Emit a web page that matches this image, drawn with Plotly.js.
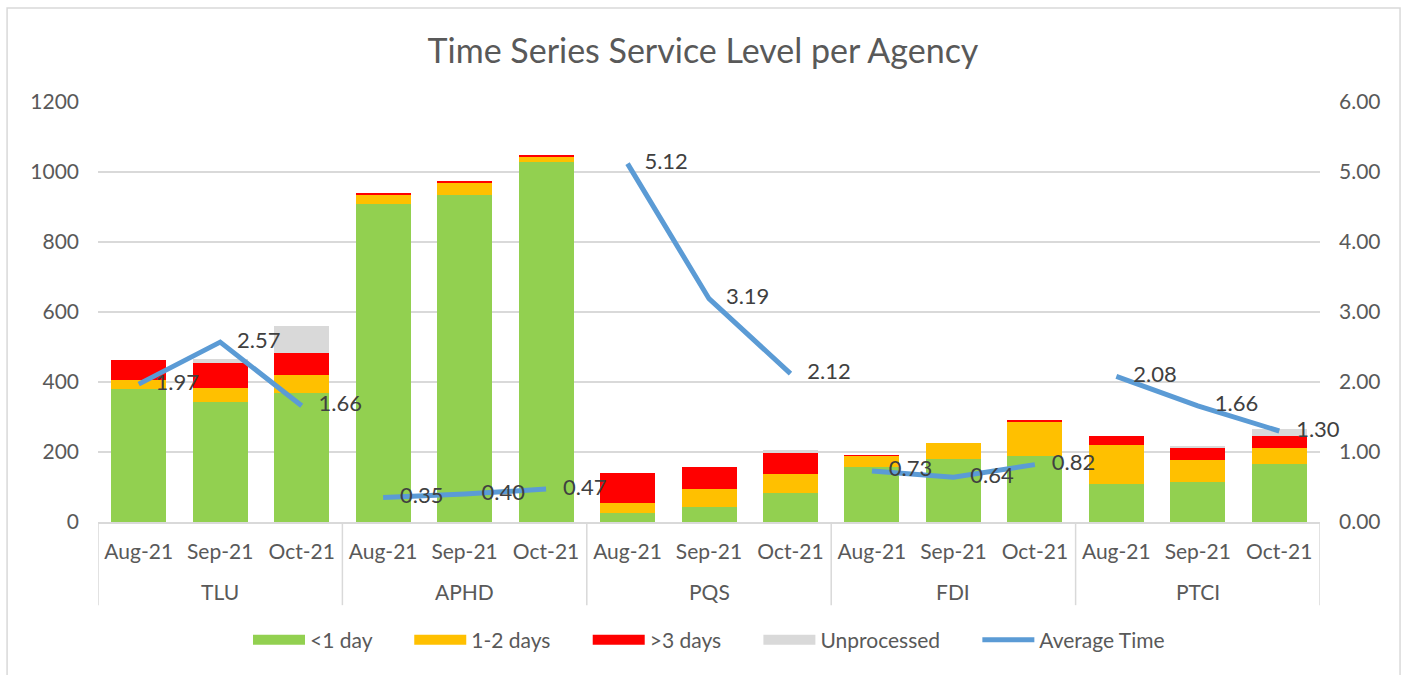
<!DOCTYPE html>
<html>
<head>
<meta charset="utf-8">
<script src="https://cdn.plot.ly/plotly-3.0.1.min.js"></script>
<style>
html,body{margin:0;padding:0;background:#fff;}
#chart{width:1406px;height:675px;}
</style>
</head>
<body>
<div id="chart"></div>
<script>
const agencies = ["TLU", "APHD", "PQS", "FDI", "PTCI"];
const months = ["Aug-21", "Sep-21", "Oct-21"];

const lessThan1Day = [379, 344, 370, 910, 934, 1030, 25, 42, 82, 156, 179, 190, 109, 115, 167];
const oneToTwoDays = [27, 40, 50, 27, 36, 14, 30, 53, 56, 34, 48, 98, 111, 62, 45];
const moreThan3Days = [57, 71, 64, 3, 3, 3, 84, 61, 58, 1, 0, 4, 27, 36, 35];
const unprocessed = [0, 10, 77, 0, 0, 0, 0, 0, 10, 0, 0, 0, 0, 2, 19];
const averageTime = [1.97, 2.57, 1.66, 0.35, 0.40, 0.47, 5.12, 3.19, 2.12, 0.73, 0.64, 0.82, 2.08, 1.66, 1.30];

// category keys: one per agency/month
const keys = [];
const monthLabels = [];
agencies.forEach(a => months.forEach(m => { keys.push(a + "|" + m); monthLabels.push(m); }));

const font = "Lato, 'Open Sans', sans-serif";
const grey = "#595959";
const lineGrey = "#D9D9D9";
const legendGap = "\u00a0".repeat(6);
const barSpec = [
  ["<1 day", lessThan1Day, "#92D050"],
  ["1-2 days", oneToTwoDays, "#FFC000"],
  [">3 days", moreThan3Days, "#FF0000"],
  ["Unprocessed", unprocessed, "#D9D9D9"]
];

const traces = barSpec.map(([name, vals, color]) => ({
  type: "bar",
  name: name,
  x: keys,
  y: vals,
  marker: {color: color, line: {width: 0}},
  showlegend: false,
  hoverinfo: "y+name"
}));

// legend swatches (wide rectangles like the original)
barSpec.forEach(([name, vals, color]) => {
  traces.push({
    type: "scatter", mode: "lines", name: name + legendGap,
    x: [null], y: [null],
    line: {color: color, width: 13},
    showlegend: true, hoverinfo: "skip"
  });
});

const nb = "\u00a0\u00a0\u00a0";
agencies.forEach((a, i) => {
  const ys = averageTime.slice(i*3, i*3+3);
  traces.push({
    type: "scatter",
    mode: "lines+text",
    name: "Average Time",
    legendgroup: "avg",
    showlegend: i === 0,
    x: keys.slice(i*3, i*3+3),
    y: ys,
    yaxis: "y2",
    line: {color: "#5B9BD5", width: 5},
    text: ys.map(v => nb + v.toFixed(2)),
    textposition: "middle right",
    textfont: {family: font, size: 22, color: "#404040"},
    cliponaxis: false
  });
});

// agency group labels and dividers, placed from the category indices
const annotations = agencies.map((a, i) => ({
  xref: "x", yref: "paper",
  x: keys[i*3 + 1], y: -0.165,
  text: a, showarrow: false,
  font: {family: font, size: 21, color: grey},
  xanchor: "center", yanchor: "middle"
}));
const shapes = [];
for (let i = 0; i <= agencies.length; i++) {
  const pos = i * months.length - 0.5;
  shapes.push({
    type: "line", xref: "x", yref: "paper",
    x0: pos, x1: pos, y0: 0, y1: -0.198,
    line: {color: lineGrey, width: 1.5}
  });
}
shapes.push({
  type: "rect", xref: "paper", yref: "paper",
  x0: -0.0744, x1: 1.0655, y0: -0.40, y1: 1.2238,
  line: {color: lineGrey, width: 1.5},
  fillcolor: "rgba(0,0,0,0)", layer: "below"
});

const layout = {
  width: 1406,
  height: 675,
  paper_bgcolor: "#ffffff",
  plot_bgcolor: "#ffffff",
  margin: {l: 98, r: 86, t: 102, b: 153},
  barmode: "stack",
  bargap: 0.325,
  font: {family: font, color: grey, size: 21},
  title: {
    text: "Time Series Service Level per Agency",
    font: {family: font, size: 34, color: grey},
    x: 0.5, xanchor: "center",
    y: 0.925, yanchor: "middle"
  },
  xaxis: {
    type: "category",
    range: [-0.5, keys.length - 0.5],
    tickvals: keys,
    ticktext: monthLabels,
    showgrid: false,
    showline: true,
    linecolor: lineGrey,
    linewidth: 1.5,
    ticks: "",
    tickfont: {family: font, size: 21, color: grey},
    ticklabelstandoff: 10
  },
  yaxis: {
    range: [0, 1200],
    dtick: 200,
    showgrid: true,
    gridcolor: lineGrey,
    gridwidth: 1.5,
    zeroline: false,
    showline: false,
    tickfont: {family: font, size: 21, color: grey},
    ticklabelstandoff: 18
  },
  yaxis2: {
    overlaying: "y",
    side: "right",
    range: [0, 6],
    dtick: 1,
    tickformat: ".2f",
    showgrid: false,
    zeroline: false,
    showline: false,
    tickfont: {family: font, size: 21, color: grey},
    ticklabelstandoff: 18
  },
  legend: {
    orientation: "h",
    x: 0.5, xanchor: "center",
    y: -0.281, yanchor: "middle",
    font: {family: font, size: 21, color: grey},
    traceorder: "normal",
    itemwidth: 52
  },
  annotations: annotations,
  shapes: shapes
};

Plotly.newPlot("chart", traces, layout, {displayModeBar: false, responsive: false});
</script>
</body>
</html>
